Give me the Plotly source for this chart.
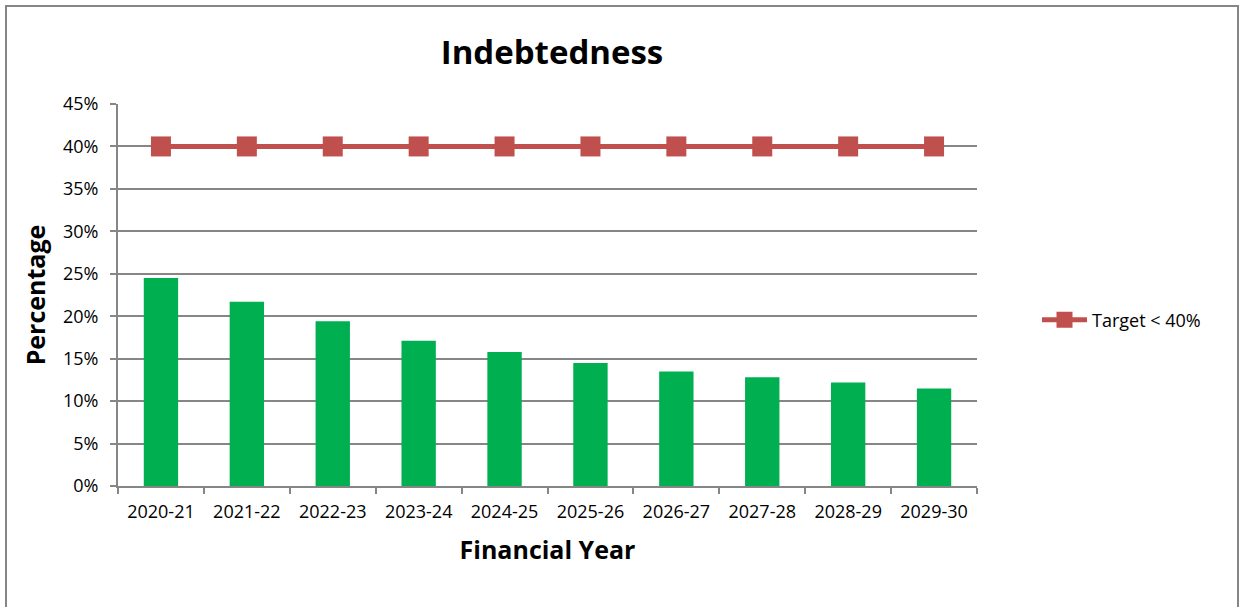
import plotly.graph_objects as go

years = ["2020-21", "2021-22", "2022-23", "2023-24", "2024-25",
         "2025-26", "2026-27", "2027-28", "2028-29", "2029-30"]
indebtedness = [0.245, 0.217, 0.194, 0.171, 0.158, 0.145, 0.135, 0.128, 0.122, 0.115]
target = [0.40] * 10

W, H = 1240, 607
L, R, T, B = 118, 977, 104, 486

fig = go.Figure()
fig.add_trace(go.Bar(x=years, y=indebtedness, marker=dict(color="#00AF50", line=dict(width=0)),
                     showlegend=False, name="Indebtedness"))
fig.add_trace(go.Scatter(x=years, y=target, mode="lines+markers", name="Target < 40%",
                         line=dict(color="#C0504D", width=5),
                         marker=dict(symbol="square", size=20, color="#C0504D")))

font = "Open Sans, Liberation Sans, sans-serif"
fig.update_layout(
    width=W, height=H,
    margin=dict(l=L, r=W - R, t=T, b=H - B, pad=0),
    paper_bgcolor="white", plot_bgcolor="white",
    bargap=0.6,
    font=dict(family=font, size=18, color="#000000"),
    title=dict(text="<b>Indebtedness</b>", x=552 / W, xanchor="center",
               y=1 - 52 / H, yanchor="middle", font=dict(size=33, family=font)),
    legend=dict(x=(1037 - L) / (R - L), y=(B - 320) / (B - T), xanchor="left", yanchor="middle",
                font=dict(size=18, family=font), itemwidth=45, bgcolor="rgba(0,0,0,0)"),
    xaxis=dict(
        title=dict(text="<b>Financial Year</b>", font=dict(size=25, family=font), standoff=20),
        range=[-0.5, len(years) - 0.5],
        showline=True, linecolor="#868686", linewidth=2,
        ticks="outside", tickson="boundaries", ticklen=6, tickcolor="#868686", tickwidth=2,
        showgrid=False, tickfont=dict(size=18), ticklabelstandoff=8,
    ),
    yaxis=dict(
        title=dict(text="<b>Percentage</b>", font=dict(size=25, family=font), standoff=10),
        range=[0, 0.45], dtick=0.05, tickformat=".0%",
        showline=True, linecolor="#868686", linewidth=2,
        ticks="outside", ticklen=6, tickcolor="#868686", tickwidth=2,
        showgrid=True, gridcolor="#868686", gridwidth=2,
        tickfont=dict(size=18), zeroline=False, ticklabelstandoff=8,
    ),
)

# outer chart border
fig.add_shape(type="rect", xref="paper", yref="paper",
              x0=(6 - L) / (R - L), x1=(1238 - L) / (R - L),
              y0=(B - 612) / (B - T), y1=(B - 6) / (B - T),
              line=dict(color="#868686", width=2), fillcolor="rgba(0,0,0,0)", layer="below")

fig.write_html("out.html", config={"displayModeBar": False},
               post_script="document.body.style.margin='0px';document.body.style.overflow='hidden';")
